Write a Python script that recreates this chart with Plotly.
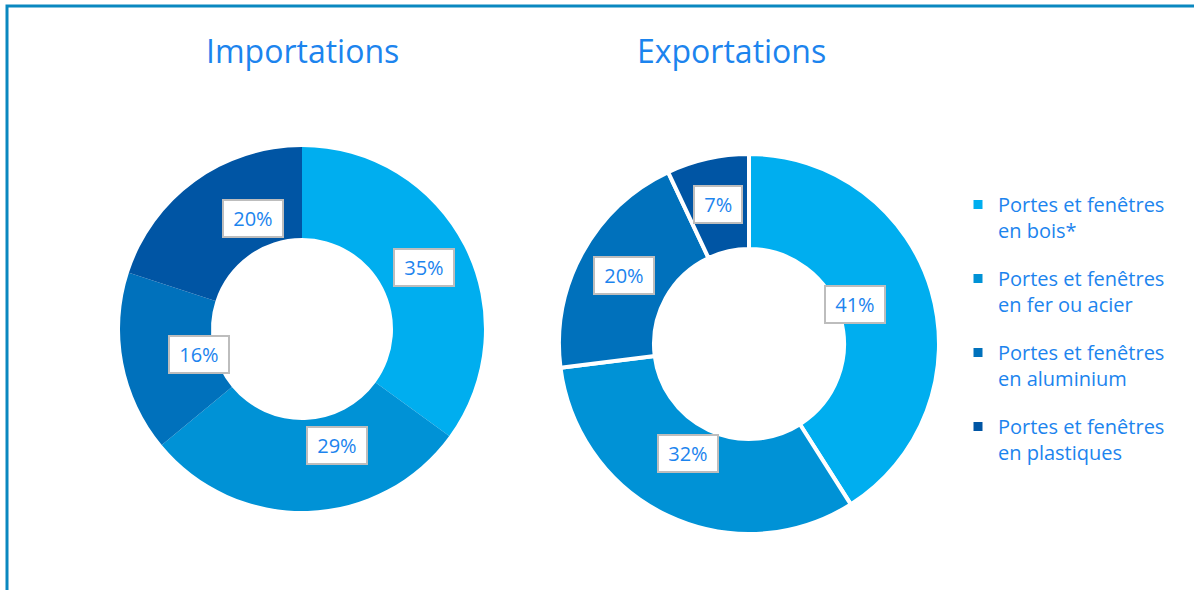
import math
import plotly.graph_objects as go

W, H = 1194, 590

# Product categories (legend text) and slice colours
categories = [
    "Portes et fenêtres<br>en bois*",
    "Portes et fenêtres<br>en fer ou acier",
    "Portes et fenêtres<br>en aluminium",
    "Portes et fenêtres<br>en plastiques",
]
colors = ["#00AEEF", "#0092D6", "#0071BC", "#0055A4"]

# Shares (%) per category
imports_pct = [35, 29, 16, 20]
exports_pct = [41, 32, 20, 7]

TEXT_BLUE = "#1C84EE"
FONT = "Open Sans"

# Pixel geometry of each donut: centre x, centre y, outer radius
geom = {
    "Importations": (302, 329, 182),
    "Exportations": (749, 344, 190),
}
HOLE = 0.5
NBSP = "\u00a0"


def domain(cx, cy, r):
    return dict(x=[(cx - r) / W, (cx + r) / W], y=[1 - (cy + r) / H, 1 - (cy - r) / H])


fig = go.Figure()
annotations = []
for name, values, sep in [("Importations", imports_pct, 0), ("Exportations", exports_pct, 4)]:
    cx, cy, r = geom[name]
    fig.add_trace(go.Pie(
        labels=categories,
        values=values,
        hole=HOLE,
        sort=False,
        direction="clockwise",
        rotation=0,
        textinfo="none",
        hoverinfo="label+percent",
        marker=dict(colors=colors, line=dict(color="white", width=sep)),
        domain=domain(cx, cy, r),
        showlegend=False,
        name=name,
    ))
    # value labels in boxes at the middle of the ring
    total = sum(values)
    start = 0.0
    rm = r * (1 + HOLE) / 2
    for v in values:
        frac = v / total
        mid = (start + frac / 2) * 2 * math.pi
        x = cx + rm * math.sin(mid)
        y = cy - rm * math.cos(mid)
        start += frac
        annotations.append(dict(
            x=x / W, y=1 - y / H, xref="paper", yref="paper",
            text=f"{NBSP}{v}%{NBSP}", showarrow=False,
            font=dict(family=FONT, size=20, color=TEXT_BLUE),
            bgcolor="white", bordercolor="#BDBDBD", borderwidth=2, borderpad=4,
        ))
    # chart title
    tx = 302 if name == "Importations" else 731
    annotations.append(dict(
        x=tx / W, y=1 - 50 / H, xref="paper", yref="paper",
        text=name, showarrow=False,
        font=dict(family=FONT, size=32, color=TEXT_BLUE),
        xanchor="center", yanchor="middle",
    ))

# Legend entries: one square swatch per category, each in its own group
for cat, col in zip(categories, colors):
    fig.add_trace(go.Scatter(
        x=[None], y=[None], mode="markers", name=cat,
        legendgroup=cat, showlegend=True, hoverinfo="skip",
        marker=dict(symbol="square", size=9, color=col),
    ))

fig.update_layout(
    width=W, height=H,
    margin=dict(l=0, r=0, t=0, b=0),
    paper_bgcolor="white",
    plot_bgcolor="white",
    xaxis=dict(visible=False),
    yaxis=dict(visible=False),
    annotations=annotations,
    legend=dict(
        x=958 / W, y=1 - 185 / H, xanchor="left", yanchor="top",
        font=dict(family=FONT, size=20, color=TEXT_BLUE),
        valign="top", itemwidth=30, tracegroupgap=19,
        bgcolor="rgba(0,0,0,0)",
    ),
    shapes=[dict(
        type="rect", xref="paper", yref="paper",
        x0=7 / W, x1=1.05, y0=-0.05, y1=1 - 6 / H,
        line=dict(color="#0A88C0", width=3),
    )],
)

fig.write_html("out.html")
